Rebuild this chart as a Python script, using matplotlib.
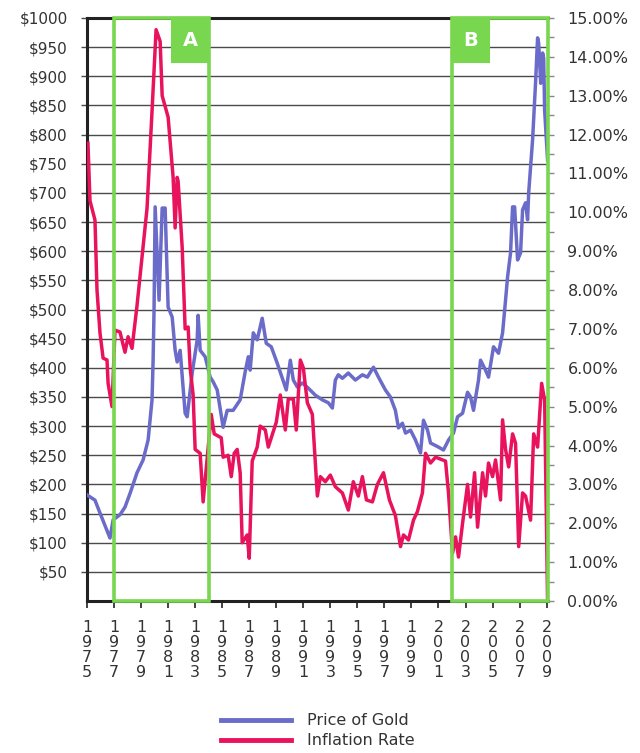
import numpy as np
import matplotlib
matplotlib.use("Agg")
import matplotlib.pyplot as plt
from matplotlib.patches import Rectangle

# gold price, $/oz
gold_years = [1975.00, 1975.59, 1975.96, 1976.70, 1976.93, 1977.44, 1977.81, 1978.19, 1978.70, 1979.15,
              1979.52, 1979.81, 1979.89, 1979.96, 1980.04, 1980.33, 1980.56, 1980.78, 1981.00, 1981.30,
              1981.52, 1981.67, 1981.89, 1982.26, 1982.41, 1982.78, 1983.15, 1983.22, 1983.37, 1983.74,
              1984.11, 1984.33, 1984.63, 1985.07, 1985.37, 1985.81, 1986.33, 1986.70, 1986.93, 1987.07,
              1987.30, 1987.59, 1987.96, 1988.26, 1988.63, 1989.07, 1989.74, 1990.04, 1990.26, 1990.56,
              1990.93, 1991.37, 1991.89, 1992.41, 1992.85, 1993.15, 1993.37, 1993.59, 1993.89, 1994.33,
              1994.85, 1995.37, 1995.74, 1996.19, 1996.56, 1997.07, 1997.44, 1997.81, 1998.04, 1998.33,
              1998.56, 1998.93, 1999.30, 1999.67, 1999.89, 2000.19, 2000.41, 2001.00, 2001.37, 2001.74,
              2002.11, 2002.41, 2002.78, 2003.15, 2003.37, 2003.59, 2003.96, 2004.11, 2004.48, 2004.70,
              2005.07, 2005.44, 2005.74, 2005.96, 2006.11, 2006.33, 2006.48, 2006.63, 2006.85, 2007.07,
              2007.22, 2007.44, 2007.59, 2007.67, 2007.96, 2008.19, 2008.33, 2008.41, 2008.56, 2008.70,
              2008.78, 2008.85, 2009.07]
gold_price = [182, 173, 151, 108, 139, 148, 161, 185, 220, 242,
              276, 345, 413, 500, 676, 516, 674, 674, 504, 487,
              430, 410, 430, 322, 316, 391, 448, 490, 430, 419,
              384, 376, 362, 298, 327, 327, 345, 393, 419, 396,
              460, 448, 485, 442, 436, 408, 362, 413, 379, 367,
              374, 365, 353, 345, 340, 331, 379, 388, 382, 391,
              379, 388, 384, 401, 384, 362, 350, 327, 297, 305,
              288, 293, 276, 254, 310, 293, 271, 264, 259, 276,
              288, 316, 322, 358, 350, 327, 379, 413, 396, 384,
              436, 425, 460, 516, 556, 597, 676, 676, 585, 597,
              671, 683, 654, 700, 791, 894, 966, 957, 888, 940,
              931, 842, 756]

# inflation rate, %
infl_years = [1975.07, 1975.22, 1975.59, 1975.74, 1975.96, 1976.19, 1976.48, 1976.56, 1976.85, 1977.07,
              1977.44, 1977.81, 1978.04, 1978.33, 1978.70, 1979.44, 1979.81, 1980.11, 1980.41, 1980.56,
              1981.00, 1981.37, 1981.52, 1981.67, 1981.74, 1982.04, 1982.26, 1982.48, 1982.63, 1982.85,
              1983.00, 1983.37, 1983.59, 1984.19, 1984.41, 1984.93, 1985.07, 1985.44, 1985.67, 1985.89,
              1986.11, 1986.33, 1986.48, 1986.85, 1987.00, 1987.22, 1987.59, 1987.81, 1988.19, 1988.41,
              1989.00, 1989.30, 1989.67, 1989.89, 1990.26, 1990.48, 1990.78, 1991.00, 1991.30, 1991.67,
              1992.04, 1992.26, 1992.63, 1993.00, 1993.37, 1993.89, 1994.33, 1994.70, 1995.07, 1995.37,
              1995.67, 1996.11, 1996.48, 1996.93, 1997.37, 1997.81, 1998.19, 1998.41, 1998.78, 1999.15,
              1999.44, 1999.81, 2000.04, 2000.41, 2000.78, 2001.30, 2001.52, 2001.74, 2002.04, 2002.26,
              2002.48, 2002.78, 2003.15, 2003.37, 2003.67, 2003.89, 2004.26, 2004.48, 2004.70, 2005.00,
              2005.22, 2005.59, 2005.74, 2005.96, 2006.19, 2006.48, 2006.70, 2006.93, 2007.22, 2007.44,
              2007.81, 2008.04, 2008.33, 2008.63, 2008.85, 2009.07]
infl_rate = [11.78, 10.3, 9.8, 8.0, 6.9, 6.25, 6.2, 5.6, 5.0, 6.97,
             6.92, 6.4, 6.8, 6.5, 7.6, 10.1, 12.6, 14.7, 14.4, 13.0,
             12.45, 10.9, 9.6, 10.9, 10.8, 9.1, 7.0, 7.05, 6.0, 5.3,
             3.9, 3.8, 2.55, 4.8, 4.3, 4.2, 3.7, 3.75, 3.2, 3.8,
             3.9, 3.3, 1.5, 1.7, 1.1, 3.6, 3.96, 4.5, 4.4, 3.96,
             4.6, 5.3, 4.4, 5.2, 5.2, 4.4, 6.2, 6.0, 5.1, 4.8,
             2.7, 3.2, 3.07, 3.24, 2.94, 2.78, 2.34, 3.07, 2.7, 3.2,
             2.6, 2.55, 3.0, 3.3, 2.6, 2.2, 1.4, 1.7, 1.57, 2.08,
             2.3, 2.78, 3.8, 3.55, 3.7, 3.63, 3.6, 2.78, 1.23, 1.65,
             1.13, 2.0, 3.0, 2.16, 3.3, 1.9, 3.3, 2.7, 3.55, 3.2,
             3.63, 2.6, 4.66, 3.9, 3.45, 4.3, 4.06, 1.4, 2.78, 2.7,
             2.08, 4.3, 3.96, 5.6, 5.17, 0.0]

periods = [("A", 1977.0, 1984.0), ("B", 2002.0, 2009.07)]
year_ticks = list(range(1975, 2010, 2))

BLUE = "#6b6bc9"
RED = "#e9135d"
GREEN = "#78d64f"
TXT = "#333333"

plt.rcParams["font.family"] = ["DejaVu Sans"]

fig = plt.figure(figsize=(6.4, 7.53), dpi=100)
ax = fig.add_axes([87/640, 1 - 601/753, (548 - 87)/640, (601 - 18)/753])
ax2 = ax.twinx()

x0, x1 = 1975.0, 2009.1
ax.set_xlim(x0, x1)
ax.set_ylim(0, 1000)
ax2.set_ylim(0, 15)

# gridlines
for v in range(50, 1000, 50):
    ax.axhline(v, color="#4a4a4a", lw=1.0, zorder=1)

ax.plot(gold_years, gold_price, color=BLUE, lw=2.5, solid_joinstyle="round", zorder=3)
ax2.plot(infl_years, infl_rate, color=RED, lw=2.5, solid_joinstyle="round", zorder=3)

# highlighted periods
yr_per_px = (x1 - x0) / (548 - 87)
for name, start, end in periods:
    ax2.add_patch(Rectangle((start, 0), end - start, 15, fill=False, edgecolor=GREEN,
                            lw=2.6, zorder=6, clip_on=False))
    w = 37 * yr_per_px
    bx = end - w if name == "A" else start
    ax2.add_patch(Rectangle((bx, 15 - 44/583*15), w, 44/583*15, facecolor=GREEN,
                            edgecolor=GREEN, lw=1.5, zorder=6, clip_on=False))
    ax2.text(bx + w/2, 15 - 22/583*15, name, color="white", fontsize=14, fontweight="bold",
             ha="center", va="center", zorder=7)

# spines
for s in ["top", "left", "bottom"]:
    ax.spines[s].set_color("#222222")
    ax.spines[s].set_linewidth(2.2)
ax.spines["right"].set_visible(False)
for s in ax2.spines.values():
    s.set_visible(False)

# left axis
ax.set_yticks(range(50, 1001, 50))
ax.set_yticklabels([f"${v}" for v in range(50, 1001, 50)])
ax.tick_params(axis="y", direction="out", length=4, width=1, color="#4a4a4a",
               labelsize=11, labelcolor=TXT, pad=10)

# right axis
ax2.set_yticks(np.arange(0, 16, 1))
ax2.set_yticklabels([f"{v:.2f}%" for v in range(0, 16)])
ax2.set_yticks(np.arange(0.5, 15, 1), minor=True)
ax2.tick_params(axis="y", which="both", direction="out", length=4, width=1, color="#888888",
                labelsize=11.5, labelcolor=TXT, pad=10)

# x axis: digits stacked vertically
ax.set_xticks(year_ticks)
ax.set_xticklabels(["\n".join(str(y)) for y in year_ticks], linespacing=1.0)
ax.tick_params(axis="x", direction="out", length=5, width=1.2, color="#222222",
               labelsize=11.5, labelcolor=TXT, pad=9)

# legend
h1, = ax.plot([], [], color=BLUE, lw=3.5)
h2, = ax.plot([], [], color=RED, lw=3.5)
fig.legend([h1, h2], ["Price of Gold", "Inflation Rate"], loc="upper center",
           bbox_to_anchor=(0.497, 1 - 699/753), frameon=False, fontsize=11.5,
           handlelength=4.4, handletextpad=1.0, labelspacing=0.3, labelcolor=TXT)

fig.savefig("out.png", dpi=100)
